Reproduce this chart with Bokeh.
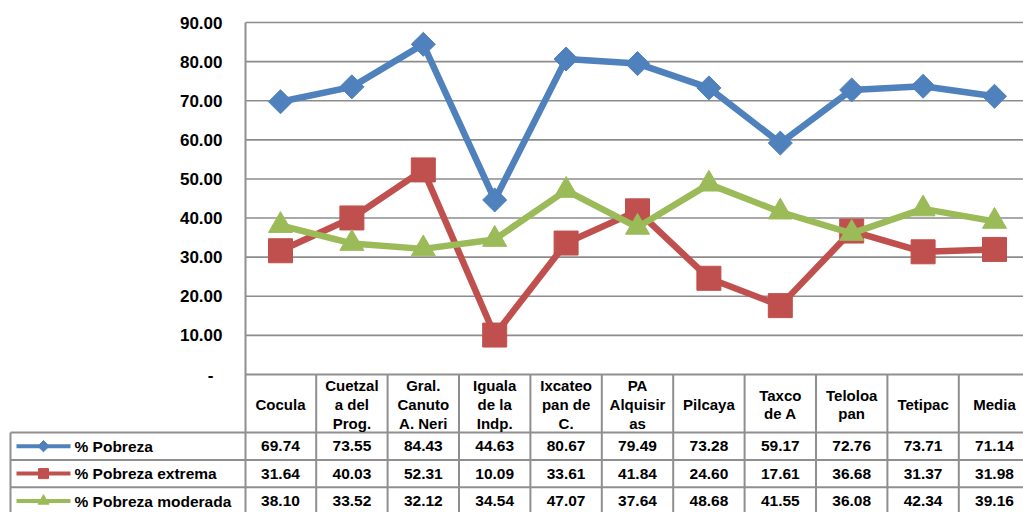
from bokeh.plotting import figure
from bokeh.models import Range1d
from bokeh.core.properties import value
from bokeh.embed import file_html
from bokeh.resources import INLINE
import numpy as np

# ---------------- data ----------------
categories = ["Cocula", "Cuetzal\na del\nProg.", "Gral.\nCanuto\nA. Neri", "Iguala\nde la\nIndp.",
              "Ixcateo\npan de\nC.", "PA\nAlquisir\nas", "Pilcaya", "Taxco\nde A",
              "Teloloa\npan", "Tetipac", "Media"]
pobreza = [69.74, 73.55, 84.43, 44.63, 80.67, 79.49, 73.28, 59.17, 72.76, 73.71, 71.14]
pobreza_extrema = [31.64, 40.03, 52.31, 10.09, 33.61, 41.84, 24.60, 17.61, 36.68, 31.37, 31.98]
pobreza_moderada = [38.10, 33.52, 32.12, 34.54, 47.07, 37.64, 48.68, 41.55, 36.08, 42.34, 39.16]
series_names = ["% Pobreza", "% Pobreza extrema", "% Pobreza moderada"]
y_ticks = [0, 10, 20, 30, 40, 50, 60, 70, 80, 90]
y_tick_labels = ["-", "10.00", "20.00", "30.00", "40.00", "50.00", "60.00", "70.00", "80.00", "90.00"]

# ---------------- layout helpers ----------------
W, H = 1023, 512
OFF = 0
PX_COL = 71.4
COL0 = 280.0
PX_UNIT = 3.911
ZERO = 374.0

def dx(px):
    return (px - COL0) / PX_COL

def dy(py):
    return (ZERO - py) / PX_UNIT

FONT = value("Liberation Sans")
GRID = "#8c8c8c"
BORDER = "#8f8f8f"
colors = ["#4F81BD", "#C0504D", "#9BBB59"]
markers = ["square", "square", "triangle"]
angles = [np.pi / 4, 0, 0]
msizes = [17, 24, 24]
lsizes = [8, 10, 11]

x_left, x_right = dx(OFF), dx(OFF + W)
y_bottom, y_top = dy(OFF + H), dy(OFF)

p = figure(width=W, height=H, x_range=Range1d(x_left, x_right), y_range=Range1d(y_bottom, y_top),
           x_axis_type=None, y_axis_type=None, toolbar_location=None, output_backend="svg",
           min_border=0, outline_line_color=None, background_fill_color="white")
p.xgrid.visible = False
p.ygrid.visible = False

n = len(categories)
xs = list(range(n))

# horizontal gridlines
gy = y_ticks[1:]
p.segment(x0=[dx(245)] * len(gy), y0=gy, x1=[x_right] * len(gy), y1=gy, line_color=GRID, line_width=1.6)

# y tick labels
p.text(x=[dx(222)] * (len(y_ticks) - 1), y=y_ticks[1:], text=y_tick_labels[1:], text_align="right",
       text_baseline="middle", text_font=FONT, text_font_style="bold", text_font_size="17px", text_color="black")
p.text(x=[dx(210)], y=[y_ticks[0]], text=[y_tick_labels[0]], text_align="center",
       text_baseline="middle", text_font=FONT, text_font_style="bold", text_font_size="17px", text_color="black")

# ---------------- table ----------------
header_bottom = 432.0
row_h = 27.4
row_tops = [header_bottom + i * row_h for i in range(3)]

# header top line (x axis line)
p.segment(x0=[dx(245)], y0=[0], x1=[x_right], y1=[0], line_color=BORDER, line_width=2)
# row lines
for yt in row_tops:
    p.segment(x0=[dx(10)], y0=[dy(yt)], x1=[x_right], y1=[dy(yt)], line_color=BORDER, line_width=2)
# left axis line
p.segment(x0=[dx(245)], y0=[y_ticks[-1]], x1=[dx(245)], y1=[y_bottom], line_color=BORDER, line_width=2)
# column separators
seps = [i + 0.5 for i in range(n - 1)]
p.segment(x0=seps, y0=[0] * len(seps), x1=seps, y1=[y_bottom] * len(seps), line_color=BORDER, line_width=2)
# left border of rows
p.segment(x0=[dx(10)], y0=[dy(header_bottom)], x1=[dx(10)], y1=[y_bottom], line_color=BORDER, line_width=2)

# header labels
p.text(x=xs, y=[dy((ZERO + header_bottom) / 2 + 1)] * n, text=categories, text_align="center",
       text_baseline="middle", text_font=FONT, text_font_style="bold", text_font_size="15px",
       text_line_height=1.1, text_color="black")

all_series = [pobreza, pobreza_extrema, pobreza_moderada]

# ---------------- series ----------------
for s, c, m, a, ms in zip(all_series, colors, markers, angles, msizes):
    p.line(xs, s, line_color=c, line_width=6.5, line_join="round")
    p.scatter(xs, s, marker=m, size=ms, angle=a, fill_color=c, line_color=c)

# table rows: legend keys, names, values
for i, (s, name, c, m, a, ls) in enumerate(zip(all_series, series_names, colors, markers, angles, lsizes)):
    yc = dy(row_tops[i] + row_h / 2)
    p.segment(x0=[dx(16)], y0=[yc], x1=[dx(70)], y1=[yc], line_color=c, line_width=4)
    p.scatter([dx(43)], [yc], marker=m, size=ls, angle=a, fill_color=c, line_color=c)
    p.text(x=[dx(74)], y=[yc], text=[name], text_align="left", text_baseline="middle",
           text_font=FONT, text_font_style="bold", text_font_size="15.5px", text_color="black")
    p.text(x=xs, y=[yc] * n, text=[f"{v:.2f}" for v in s], text_align="center", text_baseline="middle",
           text_font=FONT, text_font_style="bold", text_font_size="15.5px", text_color="black")

open("out.html", "w").write(file_html(p, INLINE))
